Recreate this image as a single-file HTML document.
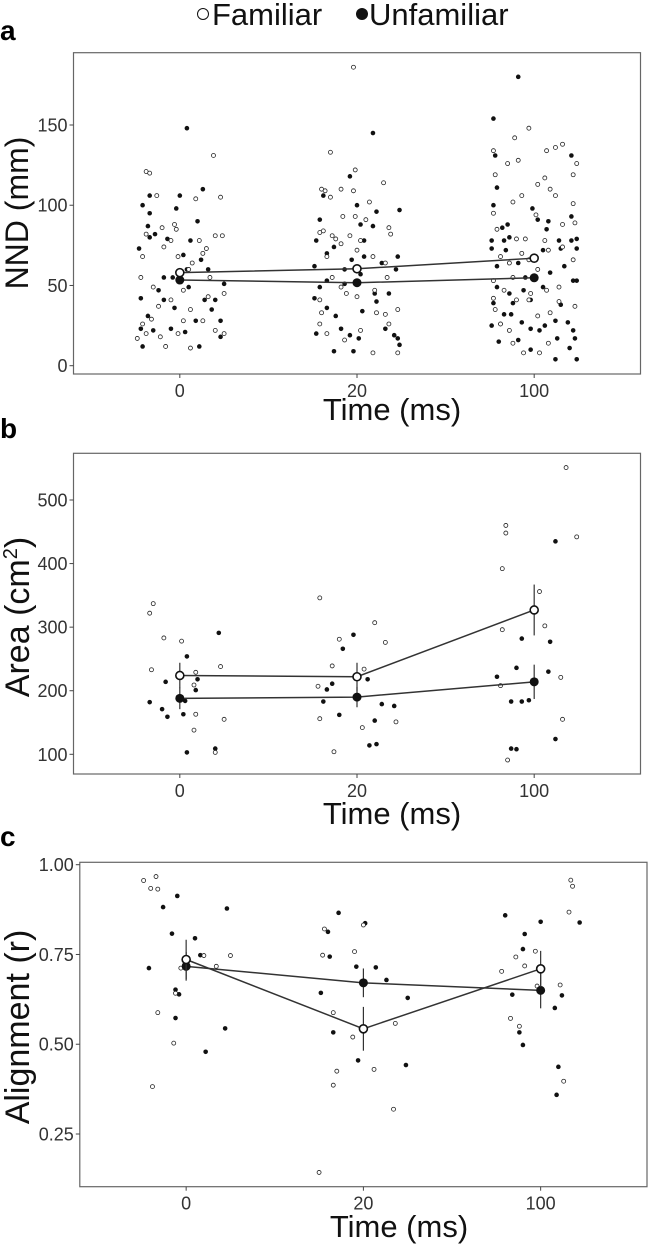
<!DOCTYPE html>
<html><head><meta charset="utf-8">
<style>
html,body{margin:0;padding:0;background:#fff;}
svg{display:block;font-family:"Liberation Sans",sans-serif;}
</style></head>
<body>
<svg id="chart" width="649" height="1244" viewBox="0 0 649 1244" xmlns="http://www.w3.org/2000/svg">
  <g>
    <circle cx="203" cy="14" r="5.5" fill="#fff" stroke="#111" stroke-width="1"/>
    <text x="212" y="25" font-size="31" fill="#111">Familiar</text>
    <circle cx="362" cy="14" r="6" fill="#111"/>
    <text x="369" y="25" font-size="31" fill="#111">Unfamiliar</text>
  </g>
  <text x="0" y="40" font-size="28" font-weight="bold">a</text>
  <text x="0" y="438" font-size="28" font-weight="bold">b</text>
  <text x="0" y="846" font-size="28" font-weight="bold">c</text>
  <g id="panels"></g>
</svg>
<script>
const categories = ["0", "20", "100"];

// Panel a: NND (mm) -- [jitter (category units), value]
const aFamiliar0 = [[-0.19,121],[-0.17,120],[-0.13,106],[-0.24,17],[-0.21,26],[-0.22,55],[-0.21,68],[-0.19,82],[-0.15,49],[-0.10,86],[-0.09,74],[-0.05,78],[-0.03,88],[-0.02,85],[-0.01,68],[0.02,47],[0.05,60],[0.07,64],[0.09,104],[0.11,78],[0.13,70],[0.15,73],[0.17,55],[0.19,131],[0.20,81],[0.23,105],[0.24,81],[0.25,45],[0.25,20],[0.20,22],[0.13,28],[0.06,11],[-0.01,20],[-0.08,12],[-0.11,18],[-0.16,29],[-0.12,37],[-0.05,41],[0.02,28],[0.06,35],[0.16,43],[-0.19,20]];
const aUnfamiliar0 = [[-0.21,100],[-0.17,106],[-0.18,87],[-0.17,95],[-0.17,80],[-0.14,82],[-0.23,73],[-0.22,42],[-0.21,12],[-0.22,23],[-0.18,31],[-0.15,22],[-0.12,47],[-0.09,41],[-0.07,79],[-0.04,55],[-0.02,98],[0,106],[0.02,69],[0.04,60],[0.04,148],[0.05,49],[0.06,78],[0.10,90],[0.13,110],[0.12,66],[0.14,41],[0.16,60],[0.18,35],[0.20,41],[0.23,18],[0.11,12],[0.03,21],[-0.05,23],[0.09,28],[-0.09,55],[-0.03,36],[0.25,51],[0.23,28]];
const aFamiliar20 = [[-0.15,133],[-0.02,186],[-0.01,122],[0.15,114],[-0.20,110],[-0.18,109],[-0.15,105],[-0.09,110],[-0.02,109],[0.07,102],[0.05,91],[-0.08,93],[-0.01,93],[-0.21,83],[-0.19,84],[-0.14,81],[-0.12,79],[-0.04,81],[0.02,78],[-0.17,68],[-0.09,76],[0,72],[0.09,68],[0.18,86],[0.19,82],[0.16,64],[0.17,55],[-0.14,55],[-0.09,49],[-0.06,45],[0,43],[0.10,47],[-0.21,41],[-0.20,33],[-0.17,20],[-0.21,26],[-0.07,16],[0.02,22],[0.09,8],[0.23,8],[0.18,26],[0.16,32],[0.11,33],[0.23,35]];
const aUnfamiliar20 = [[-0.04,118],[-0.19,106],[0.09,145],[0,100],[-0.21,91],[0.11,96],[0.24,97],[0.02,88],[0.04,78],[0.09,87],[-0.23,78],[-0.13,74],[-0.24,62],[-0.17,70],[-0.07,60],[-0.03,66],[0.04,68],[0.14,64],[0.23,68],[0.22,60],[-0.21,49],[-0.17,53],[-0.07,51],[0.02,57],[0.10,45],[0.18,45],[-0.24,42],[-0.17,36],[-0.12,31],[-0.09,23],[-0.04,19],[0.01,17],[-0.23,20],[-0.13,9],[-0.02,9],[0.03,34],[0.11,40],[0.16,23],[0.21,19],[0.24,13],[0.23,17]];
const aFamiliar100 = [[-0.23,134],[-0.22,119],[-0.15,126],[-0.09,128],[-0.11,142],[-0.03,148],[-0.07,106],[-0.12,102],[-0.21,85],[-0.23,95],[0.07,134],[0.12,136],[0.16,138],[0.24,126],[0.22,119],[0.06,117],[0.09,110],[0.12,106],[0.02,113],[0.22,101],[0.23,89],[0.16,88],[0.01,94],[-0.05,79],[-0.10,79],[-0.19,68],[-0.14,64],[-0.07,70],[0.06,78],[0.08,72],[0.22,66],[0.16,74],[0,68],[-0.03,66],[0.02,60],[-0.23,53],[-0.17,47],[-0.12,55],[-0.02,45],[0.07,47],[0.14,49],[0.23,37],[-0.23,42],[-0.22,35],[-0.19,26],[-0.14,22],[-0.12,14],[-0.06,8],[0.03,8],[0.08,14],[0.02,31],[0.09,33],[0.14,40],[-0.10,41],[-0.03,41]];
const aUnfamiliar100 = [[-0.23,154],[-0.09,180],[-0.22,131],[-0.21,111],[-0.23,100],[0.21,131],[0.21,93],[-0.01,98],[0.02,91],[0.08,90],[-0.15,88],[-0.18,86],[-0.24,78],[-0.17,78],[-0.14,80],[0.14,78],[0.21,78],[0.24,79],[-0.24,73],[-0.16,72],[0.05,72],[0.07,85],[0.15,73],[0.24,73],[-0.21,62],[-0.09,64],[0.17,62],[-0.05,55],[0.01,55],[0.09,58],[0.22,53],[0.24,53],[-0.21,49],[-0.14,45],[-0.06,47],[0.05,49],[-0.23,39],[-0.17,32],[-0.12,39],[-0.02,41],[0.15,38],[-0.19,26],[-0.13,32],[-0.07,27],[-0.02,23],[0.03,22],[0.06,25],[0.12,28],[0.19,27],[0.22,22],[-0.24,25],[-0.20,15],[-0.02,10],[0.12,4],[0.20,11],[0.24,4],[0.13,17],[0.23,17],[-0.09,16]];
const aFamiliarMeans = [58, 60.4, 67];
const aUnfamiliarMeans = [53.4, 51.7, 54.8];
const aFamiliarErr = [0, 0, 0];
const aUnfamiliarErr = [0, 0, 0];
const aTicks = [0, 50, 100, 150];

// Panel b: Area (cm2)
const bFamiliar0 = [[-0.17,322],[-0.15,337],[-0.09,283],[-0.16,233],[0.01,278],[0.09,229],[0.08,209],[0.09,163],[0.08,138],[0.20,103],[0.23,238],[0.25,155]];
const bUnfamiliar0 = [[-0.17,182],[-0.10,171],[-0.08,214],[-0.07,159],[0.04,254],[0.10,218],[0.09,201],[0.02,163],[0.03,184],[0.04,103],[0.20,109],[0.22,291]];
const bFamiliar20 = [[-0.21,346],[-0.22,207],[-0.14,239],[-0.10,281],[-0.21,156],[-0.13,104],[0.04,234],[0.10,307],[0.16,276],[0.03,142],[0.22,151]];
const bUnfamiliar20 = [[-0.17,202],[-0.14,211],[-0.19,183],[-0.08,266],[-0.02,288],[-0.10,162],[0.06,218],[0.14,179],[0.21,176],[0.10,153],[0.07,114],[0.11,116]];
const bFamiliar100 = [[0.18,551],[-0.16,460],[-0.16,448],[0.24,442],[-0.18,392],[0.03,356],[-0.18,296],[0.06,302],[-0.19,208],[0.15,221],[0.16,155],[-0.15,91]];
const bUnfamiliar100 = [[0.12,435],[-0.07,282],[0.09,277],[-0.21,222],[-0.10,236],[0.08,230],[-0.13,183],[-0.07,183],[-0.03,185],[0.12,124],[-0.13,109],[-0.10,108]];
const bFamiliarMeans = [224, 222, 327];
const bUnfamiliarMeans = [188, 190, 214];
const bFamiliarErr = [20, 22, 40];
const bUnfamiliarErr = [17, 16, 27];
const bTicks = [100, 200, 300, 400, 500];

// Panel c: Alignment (r)
const cFamiliar0 = [[-0.24,0.956],[-0.20,0.934],[-0.17,0.967],[-0.16,0.932],[-0.03,0.712],[-0.06,0.642],[-0.16,0.588],[-0.07,0.503],[-0.19,0.382],[0.10,0.747],[0.17,0.717],[0.25,0.747]];
const cUnfamiliar0 = [[-0.05,0.913],[-0.13,0.882],[-0.08,0.808],[0.05,0.795],[0.08,0.748],[0.23,0.878],[-0.21,0.712],[-0.06,0.652],[-0.04,0.639],[-0.06,0.573],[0.22,0.544],[0.11,0.479]];
const cFamiliar20 = [[-0.22,0.821],[-0.23,0.748],[-0.05,0.758],[0,0.832],[-0.17,0.588],[0.18,0.558],[-0.06,0.52],[-0.15,0.425],[-0.17,0.386],[0.06,0.43],[0.17,0.319],[-0.25,0.143]];
const cUnfamiliar20 = [[-0.20,0.813],[-0.14,0.866],[-0.19,0.744],[0.01,0.837],[-0.04,0.716],[0.07,0.714],[0.13,0.679],[-0.24,0.643],[0.25,0.629],[-0.17,0.533],[-0.03,0.455],[0.24,0.442]];
const cFamiliar100 = [[-0.03,0.759],[-0.14,0.743],[-0.09,0.718],[-0.22,0.703],[-0.02,0.662],[0.11,0.665],[-0.17,0.572],[-0.12,0.55],[0.16,0.868],[0.17,0.957],[0.18,0.94],[0.13,0.397]];
const cUnfamiliar100 = [[-0.20,0.859],[0,0.841],[-0.09,0.807],[-0.10,0.765],[-0.16,0.638],[0.12,0.636],[0.08,0.601],[-0.12,0.533],[-0.10,0.498],[0.10,0.437],[0.09,0.359],[0.22,0.839]];
const cFamiliarMeans = [0.736, 0.543, 0.71];
const cUnfamiliarMeans = [0.717, 0.671, 0.65];
const cFamiliarErr = [0.055, 0.061, 0.05];
const cUnfamiliarErr = [0.04, 0.04, 0.05];
const cTicks = [0.25, 0.50, 0.75, 1.00];
const cTickLabels = ["0.25", "0.50", "0.75", "1.00"];

const NS = "http://www.w3.org/2000/svg";
function mk(tag, attrs, parent) {
  const e = document.createElementNS(NS, tag);
  for (const k in attrs) e.setAttribute(k, attrs[k]);
  parent.appendChild(e);
  return e;
}

function drawPanel(cfg) {
  const root = document.getElementById("panels");
  const g = mk("g", {}, root);
  
  
  const x0 = cfg.left, x1 = cfg.right, y0 = cfg.top, y1 = cfg.bottom;
  const step = (x1 - x0) / (categories.length + 0.2);
  const xScale = (i, j) => x0 + step * (0.6 + i + (j || 0));
  const yScale = v => cfg.y0px + (v - cfg.v0) * (cfg.y1px - cfg.y0px) / (cfg.v1 - cfg.v0);

  const frame = mk("rect", {x: x0, y: y0, width: x1 - x0, height: y1 - y0, fill: "none", stroke: "#666", "stroke-width": 1.2}, g);
  
  

  cfg.ticks.forEach((t, k) => {
    const y = yScale(t);
    const tk = mk("line", {x1: x0 - 4, x2: x0, y1: y, y2: y, stroke: "#444", "stroke-width": 1}, g);
    
    
    const lb = mk("text", {x: x0 - 6, y: y + 6.5, "text-anchor": "end", "font-size": 18, fill: "#333"}, g);
    
    
    lb.textContent = cfg.tickLabels ? cfg.tickLabels[k] : String(t);
  });
  categories.forEach((c, i) => {
    const x = xScale(i);
    const tk = mk("line", {x1: x, x2: x, y1: y1, y2: y1 + 4, stroke: "#444", "stroke-width": 1}, g);
    
    
    const lb = mk("text", {x: x, y: y1 + 23, "text-anchor": "middle", "font-size": 18, fill: "#333"}, g);
    
    
    lb.textContent = c;
  });
  const xt = mk("text", {x: cfg.xTitleX, y: cfg.xTitleY, "text-anchor": "middle", "font-size": 31, fill: "#111"}, g);
  
  
  xt.textContent = "Time (ms)";
  const yt = mk("text", {x: 0, y: 0, "text-anchor": "middle", "font-size": cfg.yTitleSize, fill: "#111", transform: "translate(" + (cfg.yTitleX) + "," + cfg.yTitleY + ") rotate(-90)"}, g);
  
  
  yt.innerHTML = cfg.yTitle;

  cfg.unfam.forEach((arr, i) => arr.forEach(p => {
    const c = mk("circle", {cx: xScale(i, p[0]), cy: yScale(p[1]), r: 2.3, fill: "#111"}, g);
    
    
  }));
  cfg.fam.forEach((arr, i) => arr.forEach(p => {
    const c = mk("circle", {cx: xScale(i, p[0]), cy: yScale(p[1]), r: 2, fill: "#fff", stroke: "#222", "stroke-width": 0.8}, g);
    
    
  }));

  [[cfg.unfamMeans, cfg.unfamErr, true], [cfg.famMeans, cfg.famErr, false]].forEach(([m, e, filled]) => {
    m.forEach((v, i) => {
      if (e[i] > 0) {
        const eb = mk("line", {x1: xScale(i), x2: xScale(i), y1: yScale(v - e[i]), y2: yScale(v + e[i]), stroke: "#333", "stroke-width": 1.2}, g);
        
        
      }
    });
    const pts = m.map((v, i) => xScale(i) + "," + yScale(v)).join(" ");
    const pl = mk("polyline", {points: pts, fill: "none", stroke: "#333", "stroke-width": 1.5}, g);
    
    
    m.forEach((v, i) => {
      const c = mk("circle", {cx: xScale(i), cy: yScale(v), r: filled ? 4.5 : 4, fill: filled ? "#111" : "#fff", stroke: "#111", "stroke-width": filled ? 0 : 1.6}, g);
      
      
    });
  });
}

drawPanel({name: "panel-a-nnd", left: 73.5, right: 640.5, top: 52.7, bottom: 374,
  v0: 0, v1: 150, y0px: 365.7, y1px: 125, ticks: aTicks,
  fam: [aFamiliar0, aFamiliar20, aFamiliar100], unfam: [aUnfamiliar0, aUnfamiliar20, aUnfamiliar100],
  famMeans: aFamiliarMeans, unfamMeans: aUnfamiliarMeans, famErr: aFamiliarErr, unfamErr: aUnfamiliarErr,
  xTitleX: 392, xTitleY: 420, yTitleX: 28, yTitleY: 213, yTitleSize: 32, yTitle: "NND (mm)"});

drawPanel({name: "panel-b-area", left: 73.5, right: 640.5, top: 453.3, bottom: 774,
  v0: 100, v1: 500, y0px: 754.3, y1px: 500, ticks: bTicks,
  fam: [bFamiliar0, bFamiliar20, bFamiliar100], unfam: [bUnfamiliar0, bUnfamiliar20, bUnfamiliar100],
  famMeans: bFamiliarMeans, unfamMeans: bUnfamiliarMeans, famErr: bFamiliarErr, unfamErr: bUnfamiliarErr,
  xTitleX: 392, xTitleY: 824, yTitleX: 29, yTitleY: 617, yTitleSize: 34, yTitle: "Area (cm<tspan font-size='20' dy='-12'>2</tspan><tspan dy='12'>)</tspan>"});

drawPanel({name: "panel-c-alignment", left: 79.8, right: 647, top: 862.3, bottom: 1186.7,
  v0: 0.25, v1: 1.0, y0px: 1134, y1px: 864.7, ticks: cTicks, tickLabels: cTickLabels,
  fam: [cFamiliar0, cFamiliar20, cFamiliar100], unfam: [cUnfamiliar0, cUnfamiliar20, cUnfamiliar100],
  famMeans: cFamiliarMeans, unfamMeans: cUnfamiliarMeans, famErr: cFamiliarErr, unfamErr: cUnfamiliarErr,
  xTitleX: 399, xTitleY: 1237, yTitleX: 29, yTitleY: 1027, yTitleSize: 34, yTitle: "Alignment (r)"});
</script>
</body></html>
